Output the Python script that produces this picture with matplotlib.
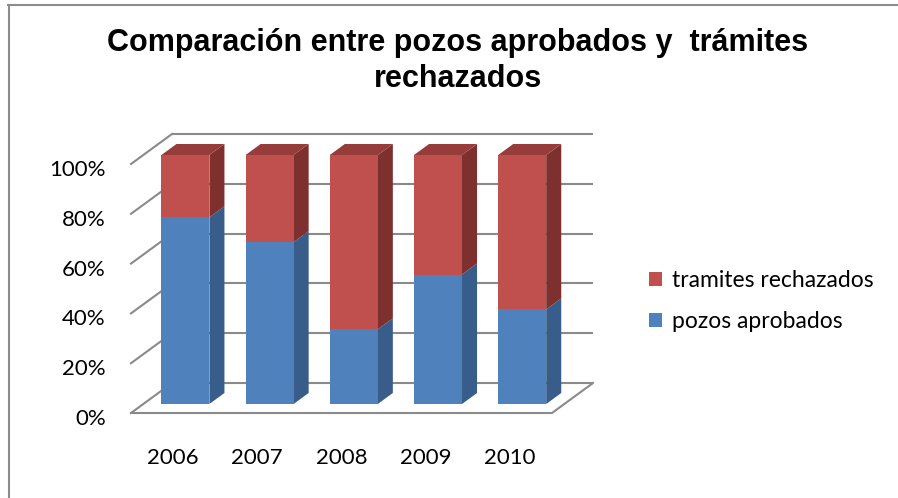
import matplotlib
matplotlib.use('Agg')
import matplotlib.pyplot as plt
from matplotlib.patches import Polygon, Patch
from matplotlib.lines import Line2D

years = ['2006', '2007', '2008', '2009', '2010']
pozos = [75, 65, 30, 52, 38]
tramites = [25, 35, 70, 48, 62]
yticks = [0, 0.2, 0.4, 0.6, 0.8, 1.0]
ylabels = ['0%', '20%', '40%', '60%', '80%', '100%']

BLUE, BLUE_SIDE = '#4F81BD', '#385D8A'
RED, RED_SIDE, RED_TOP = '#C0504D', '#7D302E', '#963C3A'
GRID = '#8A8A8A'
LABEL_FONT = ['Lato', 'DejaVu Sans']

W, H = 898, 498
fig = plt.figure(figsize=(W / 100, H / 100), dpi=100)
fig.patch.set_facecolor('white')

# front plane of the 3d box: x -0.5..4.5, y 0..1
ax = fig.add_axes([131 / W, 1 - 413 / H, 421 / W, 249 / H])
ax.set_xlim(-0.5, 4.5)
ax.set_ylim(0, 1)
ax.axis('off')

# depth offset of the box (data units)
DX = 41 / 84.2
DY = 30 / 249

# back wall + left wall gridlines
for y in yticks:
    ax.plot([-0.5 + DX, 4.5 + DX], [y + DY, y + DY], color=GRID, lw=1.5,
            zorder=1, clip_on=False, solid_capstyle='butt')
    ax.plot([-0.5, -0.5 + DX], [y, y + DY], color=GRID, lw=1.5,
            zorder=1, clip_on=False)
# floor front edges
ax.plot([-0.5, 4.5, 4.5 + DX], [0, 0, DY], color=GRID, lw=1.5, zorder=3,
        clip_on=False)

# bars
bw = 48 / 84.2
f0, f1 = 0.3, 0.667
ox0, oy0 = f0 * DX, f0 * DY
dx, dy = (f1 - f0) * DX, (f1 - f0) * DY

for i in range(len(years)):
    tot = pozos[i] + tramites[i]
    b = pozos[i] / tot
    x0 = i - bw / 2 + ox0
    x1 = i + bw / 2 + ox0
    segs = [(0, b, BLUE, BLUE_SIDE), (b, 1.0, RED, RED_SIDE)]
    for lo, hi, cf, cs in segs:
        front = [(x0, lo + oy0), (x1, lo + oy0), (x1, hi + oy0), (x0, hi + oy0)]
        side = [(x1, lo + oy0), (x1 + dx, lo + oy0 + dy),
                (x1 + dx, hi + oy0 + dy), (x1, hi + oy0)]
        ax.add_patch(Polygon(side, closed=True, facecolor=cs, edgecolor='none',
                             zorder=2, clip_on=False))
        ax.add_patch(Polygon(front, closed=True, facecolor=cf, edgecolor='none',
                             zorder=2, clip_on=False))
    top = [(x0, 1 + oy0), (x1, 1 + oy0), (x1 + dx, 1 + oy0 + dy),
           (x0 + dx, 1 + oy0 + dy)]
    ax.add_patch(Polygon(top, closed=True, facecolor=RED_TOP, edgecolor='none',
                         zorder=2, clip_on=False))

# axis labels
for y, lab in zip(yticks, ylabels):
    ax.text(-0.8, y - 0.024, lab, ha='right', va='center', fontsize=16,
            family=LABEL_FONT, clip_on=False)
for i, lab in enumerate(years):
    ax.text(i, -0.181, lab, ha='center', va='center', fontsize=16,
            family=LABEL_FONT, clip_on=False)

# title
fig.text(458 / W, 1 - 61 / H,
         'Comparación entre pozos aprobados y  trámites\nrechazados',
         ha='center', va='center', fontsize=22, fontweight='bold',
         family='Liberation Sans', linespacing=1.3)

# legend
handles = [Patch(facecolor=RED, label='tramites rechazados'),
           Patch(facecolor=BLUE, label='pozos aprobados')]
leg = fig.legend(handles=handles, loc='center left',
                 bbox_to_anchor=(649 / W, 1 - 301 / H), frameon=False,
                 prop={'family': LABEL_FONT, 'size': 16.5},
                 handlelength=0.55, handleheight=0.55, handletextpad=0.45,
                 labelspacing=0.85, borderpad=0, borderaxespad=0)

# chart frame (top and left edges visible)
fig.add_artist(Line2D([8.5 / W, 8.5 / W], [0, 1 - 5 / H], color='#8C8C8C', lw=1.5))
fig.add_artist(Line2D([8 / W, 1], [1 - 5.5 / H, 1 - 5.5 / H], color='#8C8C8C', lw=1.5))

fig.savefig('out.png', dpi=100, facecolor='white')
